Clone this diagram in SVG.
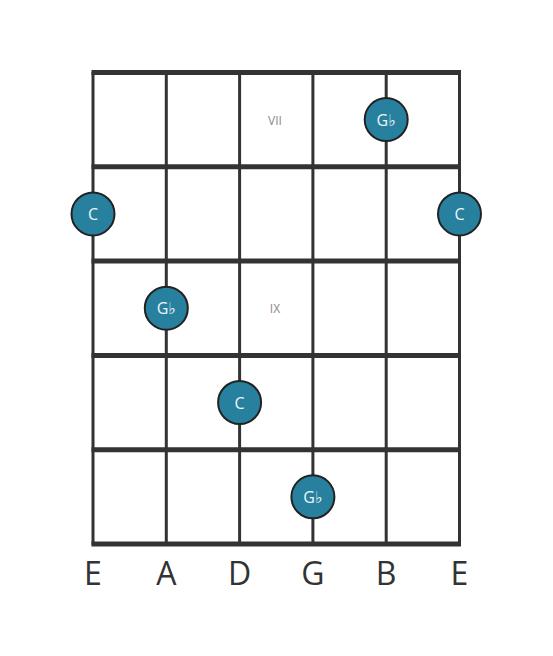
<svg xmlns="http://www.w3.org/2000/svg" width="553" height="656" viewBox="0 0 553 656">
<style>
.str{stroke:#333;stroke-width:3}
.fret{stroke:#333;stroke-width:5}
.dot circle{fill:#26809e;stroke:#222;stroke-width:2}
.dot text{fill:#eef6f9;font-family:"Open Sans","DejaVu Sans",sans-serif;font-size:16px;text-anchor:middle;dominant-baseline:central}
.pos{fill:#888;font-family:"Open Sans",sans-serif;font-size:12px;text-anchor:middle;dominant-baseline:central}
.sname{fill:#333;font-family:"Open Sans",sans-serif;font-size:32px;text-anchor:middle}
</style>
<rect width="553" height="656" fill="#fff"/>
<g id="grid">
<line class="str" x1="93" y1="72" x2="93" y2="545"/>
<line class="str" x1="166.3" y1="72" x2="166.3" y2="545"/>
<line class="str" x1="239.6" y1="72" x2="239.6" y2="545"/>
<line class="str" x1="312.9" y1="72" x2="312.9" y2="545"/>
<line class="str" x1="386.2" y1="72" x2="386.2" y2="545"/>
<line class="str" x1="459.5" y1="72" x2="459.5" y2="545"/>
<line class="fret" x1="91.5" y1="72.5" x2="461" y2="72.5"/>
<line class="fret" x1="91.5" y1="166.8" x2="461" y2="166.8"/>
<line class="fret" x1="91.5" y1="261.1" x2="461" y2="261.1"/>
<line class="fret" x1="91.5" y1="355.4" x2="461" y2="355.4"/>
<line class="fret" x1="91.5" y1="449.7" x2="461" y2="449.7"/>
<line class="fret" x1="91.5" y1="544" x2="461" y2="544"/>
</g>
<g id="positions">
<text class="pos" x="275" y="120">VII</text>
<text class="pos" x="275" y="308">IX</text>
</g>
<g id="n1" class="dot"><circle cx="386.2" cy="119.6" r="21.5"/><text x="386.2" y="119.6">G♭</text></g>
<g id="n2" class="dot"><circle cx="93" cy="213.9" r="21.5"/><text x="93" y="213.9">C</text></g>
<g id="n3" class="dot"><circle cx="459.5" cy="213.9" r="21.5"/><text x="459.5" y="213.9">C</text></g>
<g id="n4" class="dot"><circle cx="166.3" cy="308.2" r="21.5"/><text x="166.3" y="308.2">G♭</text></g>
<g id="n5" class="dot"><circle cx="239.6" cy="402.5" r="21.5"/><text x="239.6" y="402.5">C</text></g>
<g id="n6" class="dot"><circle cx="312.9" cy="496.8" r="21.5"/><text x="312.9" y="496.8">G♭</text></g>
<g id="strings">
<text class="sname" x="93" y="585">E</text>
<text class="sname" x="166.3" y="585">A</text>
<text class="sname" x="239.6" y="585">D</text>
<text class="sname" x="312.9" y="585">G</text>
<text class="sname" x="386.2" y="585">B</text>
<text class="sname" x="459.5" y="585">E</text>
</g>
</svg>
